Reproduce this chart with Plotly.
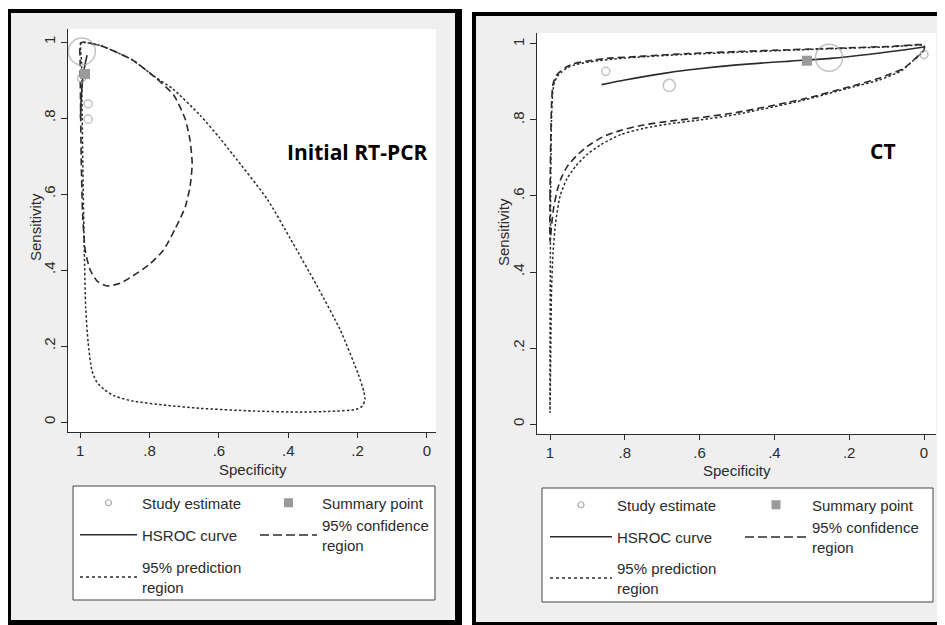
import plotly.graph_objects as go

# The page shows the figure with the browser's default 8px body margin,
# so the figure is 8px smaller than the window and every reference pixel
# position is shifted by OFF.
OFF = 8
W, H = 945 - OFF, 625 - OFF

# ---------------- data: Initial RT-PCR (left panel) ----------------
pcr_study_spec = [0.995, 0.977, 0.977, 0.996]
pcr_study_sens = [0.975, 0.837, 0.797, 0.905]
pcr_study_weight = [1.0, 0.3, 0.3, 0.3]
pcr_summary_spec = [0.986]
pcr_summary_sens = [0.916]
pcr_hsroc_spec = [0.999, 0.997, 0.994, 0.990, 0.985, 0.980]
pcr_hsroc_sens = [0.800, 0.850, 0.890, 0.920, 0.945, 0.965]
pcr_conf_spec = [0.998, 0.94, 0.85, 0.784, 0.73, 0.697, 0.683, 0.677, 0.683, 0.697, 0.725,
                 0.76, 0.80, 0.847, 0.885, 0.922, 0.95, 0.971, 0.985, 0.993, 0.997,
                 0.999, 1.0, 0.998]
pcr_conf_sens = [0.998, 0.99, 0.953, 0.907, 0.86, 0.797, 0.74, 0.68, 0.62, 0.566, 0.51,
                 0.452, 0.415, 0.385, 0.365, 0.358, 0.37, 0.40, 0.45, 0.55, 0.70,
                 0.85, 0.95, 0.998]
pcr_pred_spec = [0.997, 0.94, 0.85, 0.784, 0.732, 0.654, 0.60, 0.559, 0.461, 0.395, 0.317,
                 0.25, 0.199, 0.182, 0.179, 0.186, 0.205, 0.28, 0.366, 0.50, 0.654,
                 0.75, 0.847, 0.90, 0.93, 0.952, 0.966, 0.977, 0.984, 0.988, 0.991,
                 0.994, 0.996, 0.997]
pcr_pred_sens = [0.998, 0.99, 0.953, 0.908, 0.876, 0.807, 0.75, 0.703, 0.587, 0.484, 0.358,
                 0.242, 0.128, 0.08, 0.06, 0.042, 0.033, 0.028, 0.026, 0.029, 0.036,
                 0.044, 0.055, 0.068, 0.085, 0.105, 0.135, 0.21, 0.30, 0.45, 0.60,
                 0.80, 0.95, 0.998]

# ---------------- data: CT (right panel) ----------------
ct_study_spec = [0.851, 0.681, 0.254, 0.000]
ct_study_sens = [0.928, 0.891, 0.964, 0.972]
ct_study_weight = [0.3, 0.45, 1.0, 0.3]
ct_summary_spec = [0.313]
ct_summary_sens = [0.956]
ct_hsroc_spec = [0.862, 0.80, 0.70, 0.626, 0.50, 0.358, 0.25, 0.144, 0.05, 0.0]
ct_hsroc_sens = [0.893, 0.905, 0.922, 0.932, 0.945, 0.955, 0.962, 0.973, 0.985, 0.992]
ct_conf_spec = [1.0, 1.0, 0.998, 0.996, 0.992, 0.983, 0.973, 0.955, 0.938, 0.90, 0.848,
                0.75, 0.626, 0.50, 0.358, 0.20, 0.08, 0.0,
                0.0, 0.025, 0.056, 0.12, 0.19, 0.323, 0.50, 0.60, 0.679, 0.75, 0.813,
                0.86, 0.901, 0.93, 0.955, 0.971, 0.981, 0.99, 0.995, 1.0]
ct_conf_sens = [0.48, 0.60, 0.75, 0.84, 0.895, 0.917, 0.927, 0.94, 0.948, 0.955, 0.962,
                0.968, 0.975, 0.98, 0.985, 0.99, 0.994, 0.997,
                0.985, 0.96, 0.935, 0.91, 0.89, 0.855, 0.82, 0.806, 0.797, 0.787, 0.772,
                0.755, 0.73, 0.705, 0.676, 0.645, 0.614, 0.57, 0.53, 0.48]
ct_pred_spec = [1.0, 1.0, 0.999, 0.998, 0.996, 0.993, 0.988, 0.98, 0.97, 0.955, 0.93,
                0.88, 0.80, 0.65, 0.50, 0.35, 0.20, 0.08, 0.0,
                0.0, 0.03, 0.06, 0.12, 0.19, 0.323, 0.50, 0.60, 0.68, 0.75, 0.81,
                0.866, 0.90, 0.93, 0.955, 0.973, 0.985, 0.992, 0.996, 0.998, 1.0]
ct_pred_sens = [0.03, 0.20, 0.45, 0.65, 0.80, 0.87, 0.90, 0.915, 0.925, 0.937, 0.946,
                0.955, 0.963, 0.972, 0.978, 0.984, 0.989, 0.993, 0.996,
                0.983, 0.955, 0.93, 0.905, 0.887, 0.852, 0.815, 0.80, 0.79, 0.778, 0.762,
                0.734, 0.71, 0.68, 0.645, 0.60, 0.53, 0.45, 0.35, 0.20, 0.03]

tick_vals = [0, 0.2, 0.4, 0.6, 0.8, 1]
tick_text = ["0", ".2", ".4", ".6", ".8", "1"]
legend_names = ["Study estimate", "Summary point", "HSROC curve",
                "95% confidence<br>region", "95% prediction<br>region"]
panel_titles = ["Initial RT-PCR", "CT"]

# ---------------- styles ----------------
FONT = "Liberation Sans, Arial, sans-serif"
INK = "#2b2b2b"
CIRCLE = "#a8a8a8"
SQUARE = "#9a9a9a"
DASH = "7px,4px"
DOT = "2.5px,2.2px"
BIG = 27


def px(x):
    return (x - OFF) / W


def py(y):
    return 1 - (y - OFF) / H


fig = go.Figure()


def add_panel(xa, ya, sspec, ssens, sweight, mspec, msens, hspec, hsens,
              cspec, csens, pspec, psens):
    fig.add_trace(go.Scatter(x=pspec, y=psens, mode="lines", xaxis=xa, yaxis=ya,
                             line=dict(color=INK, width=1.5, dash=DOT,
                                       shape="spline", smoothing=0.6),
                             showlegend=False, hoverinfo="skip"))
    fig.add_trace(go.Scatter(x=cspec, y=csens, mode="lines", xaxis=xa, yaxis=ya,
                             line=dict(color=INK, width=1.6, dash=DASH,
                                       shape="spline", smoothing=0.6),
                             showlegend=False, hoverinfo="skip"))
    fig.add_trace(go.Scatter(x=hspec, y=hsens, mode="lines", xaxis=xa, yaxis=ya,
                             line=dict(color=INK, width=1.6, shape="spline", smoothing=0.6),
                             showlegend=False, hoverinfo="skip"))
    fig.add_trace(go.Scatter(x=sspec, y=ssens, mode="markers", xaxis=xa, yaxis=ya,
                             marker=dict(symbol="circle-open", color=CIRCLE,
                                         size=[BIG * w for w in sweight],
                                         line=dict(width=1.5, color=CIRCLE)),
                             showlegend=False))
    fig.add_trace(go.Scatter(x=mspec, y=msens, mode="markers", xaxis=xa, yaxis=ya,
                             marker=dict(symbol="square", color=SQUARE, size=10),
                             showlegend=False))


add_panel("x", "y", pcr_study_spec, pcr_study_sens, pcr_study_weight,
          pcr_summary_spec, pcr_summary_sens, pcr_hsroc_spec, pcr_hsroc_sens,
          pcr_conf_spec, pcr_conf_sens, pcr_pred_spec, pcr_pred_sens)
add_panel("x2", "y2", ct_study_spec, ct_study_sens, ct_study_weight,
          ct_summary_spec, ct_summary_sens, ct_hsroc_spec, ct_hsroc_sens,
          ct_conf_spec, ct_conf_sens, ct_pred_spec, ct_pred_sens)

# legend keys: one small legend per key so the Stata two-column key layout is kept
legend_styles = [
    dict(mode="markers", marker=dict(symbol="circle-open", size=6, color=CIRCLE,
                                     line=dict(width=1.2, color=CIRCLE))),
    dict(mode="markers", marker=dict(symbol="square", size=9, color=SQUARE)),
    dict(mode="lines", line=dict(color=INK, width=1.6)),
    dict(mode="lines", line=dict(color=INK, width=1.6, dash="9px,4px")),
    dict(mode="lines", line=dict(color=INK, width=1.5, dash="3px,3px")),
]
legend_spots = {
    "x": dict(item=57, pos=[(75, 503), (255, 503), (75, 535), (255, 535), (75, 577)]),
    "x2": dict(item=62, pos=[(545, 505), (740, 505), (545, 537), (740, 537), (545, 578)]),
}

legend_layouts = {}
k = 0
for xa, ya in (("x", "y"), ("x2", "y2")):
    spot = legend_spots[xa]
    for name, st, (lx, ly) in zip(legend_names, legend_styles, spot["pos"]):
        k += 1
        lid = "legend" if k == 1 else f"legend{k}"
        fig.add_trace(go.Scatter(x=[None], y=[None], xaxis=xa, yaxis=ya, name=name,
                                 legend=lid, showlegend=True, hoverinfo="skip", **st))
        legend_layouts[lid] = dict(
            x=px(lx), y=py(ly), xanchor="left", yanchor="middle", orientation="v",
            font=dict(family=FONT, size=15, color=INK), bgcolor="rgba(0,0,0,0)",
            borderwidth=0, itemwidth=spot["item"], valign="middle",
            itemclick=False, itemdoubleclick=False)

axis_common = dict(showgrid=False, zeroline=False, showline=True, linecolor=INK,
                   linewidth=1.3, ticks="outside", tickwidth=1.3,
                   tickcolor=INK, tickvals=tick_vals, ticktext=tick_text,
                   tickfont=dict(family=FONT, size=15, color=INK), fixedrange=True)

fig.update_layout(
    width=W, height=H, margin=dict(l=0, r=0, t=0, b=0, autoexpand=False),
    paper_bgcolor="white", plot_bgcolor="white",
    xaxis=dict(domain=[px(68), px(436)], range=[1.035, -0.026], anchor="y",
               ticklen=5, **axis_common),
    yaxis=dict(domain=[py(432), py(29)], range=[-0.0263, 1.0342], anchor="x",
               ticklen=6, tickangle=-90, **axis_common),
    xaxis2=dict(domain=[px(537), px(936)], range=[1.0348, -0.0321], anchor="y2",
                ticklen=5, **axis_common),
    yaxis2=dict(domain=[py(434), py(33)], range=[-0.0263, 1.0289], anchor="x2",
                ticklen=6, tickangle=-90, **axis_common),
    **legend_layouts,
)


# panel frames, plot regions and legend boxes (decoration)
def rect(x0, y0, x1, y1, fill, line_color=None, lw=0):
    fig.add_shape(type="rect", xref="paper", yref="paper", layer="below",
                  x0=px(x0), x1=px(x1), y0=py(y1), y1=py(y0), fillcolor=fill,
                  line=dict(width=lw, color=line_color or fill))


rect(8, 9, 462, 626, "black")
rect(11, 13, 455, 620, "#efefef")
rect(472, 12, 946, 626, "black")
rect(476, 16, 942, 622, "#efefef")
for xa, ya in (("x", "y"), ("x2", "y2")):
    fig.add_shape(type="rect", xref=f"{xa} domain", yref=f"{ya} domain", layer="below",
                  x0=0, x1=1, y0=0, y1=1, fillcolor="white", line=dict(width=0))
rect(73, 486, 435, 600, "white", "#444444", 1)
rect(542, 488, 933, 602, "white", "#444444", 1)

# axis titles and panel labels
for cx, cy in ((253, 469), (737, 470)):
    fig.add_annotation(text="Specificity", xref="paper", yref="paper", x=px(cx), y=py(cy),
                       xanchor="center", yanchor="middle", showarrow=False,
                       font=dict(family=FONT, size=15, color=INK))
for cx, cy in ((35, 227), (503, 232)):
    fig.add_annotation(text="Sensitivity", xref="paper", yref="paper", x=px(cx), y=py(cy),
                       xanchor="center", yanchor="middle", textangle=-90, showarrow=False,
                       font=dict(family=FONT, size=15, color=INK))
fig.add_annotation(text="<b>" + panel_titles[0] + "</b>", xref="x", yref="y", x=0.199, y=0.71,
                   xanchor="center", yanchor="middle", showarrow=False,
                   font=dict(family="Open Sans", size=21, color="black"))
fig.add_annotation(text="<b>" + panel_titles[1] + "</b>", xref="x2", yref="y2", x=0.11, y=0.718,
                   xanchor="center", yanchor="middle", showarrow=False,
                   font=dict(family="Open Sans", size=21, color="black"))

fig.write_html("out.html")
